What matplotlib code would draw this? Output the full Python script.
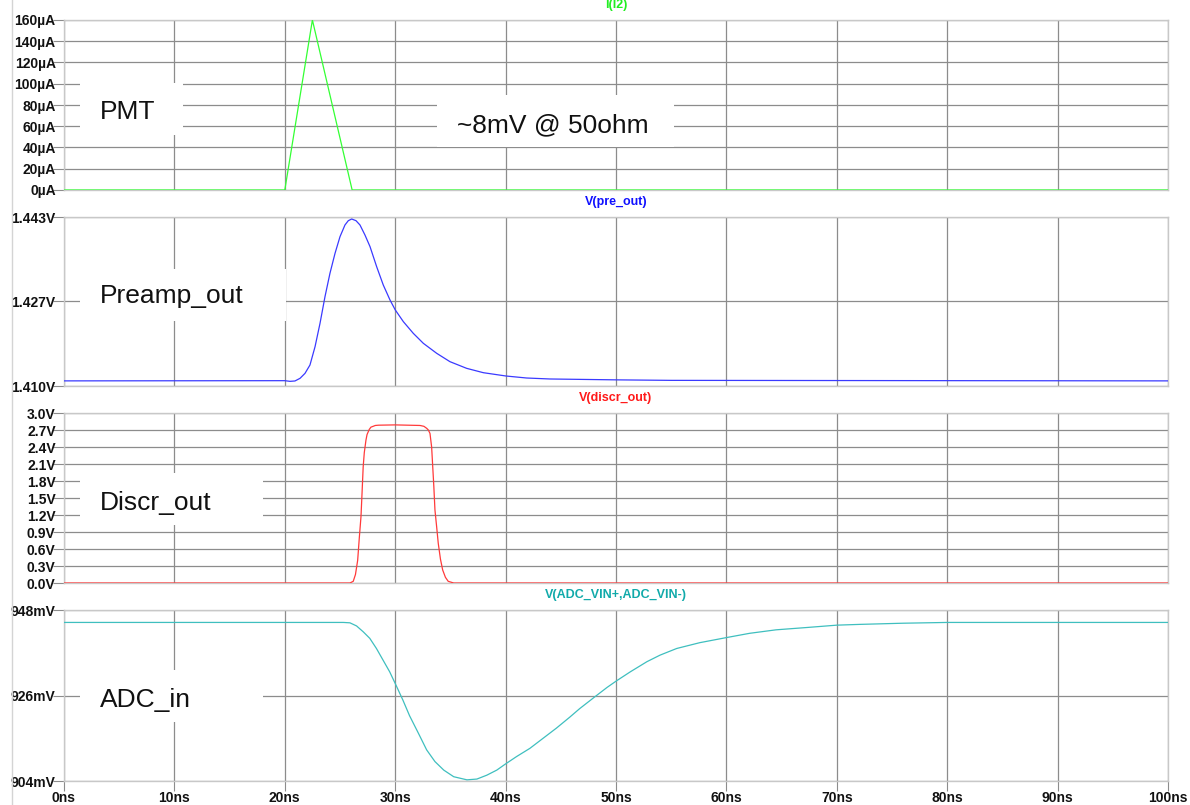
#!/usr/bin/env python3
"""
LTspice-style transient plot: PMT current, preamp, discriminator, ADC input.
"""

import matplotlib
matplotlib.use('Agg')
import matplotlib.pyplot as plt
import matplotlib.transforms as mtransforms
from matplotlib.patches import Rectangle
from matplotlib.lines import Line2D

W, H = 1190, 805
plt.rcParams['font.family'] = ['Liberation Sans', 'DejaVu Sans']

# ── Data ─────────────────────────────────────────────────────────
t_pmt = [0, 20.0, 22.5, 26.1, 100]
i_pmt = [0, 0, 160, 0, 0]

t_pre = [0, 20.0, 20.47, 20.92, 21.38, 21.83, 22.28, 22.74, 23.19, 23.64,
         24.09, 24.55, 25.0, 25.45, 25.75, 26.06, 26.45, 26.81, 27.26,
         27.72, 28.32, 28.92, 29.53, 30.01, 30.74, 31.64, 32.55, 33.76,
         34.96, 36.47, 37.98, 40.04, 41.91, 44.02, 50.0, 55.0, 100]
v_pre = [1.4110, 1.41104, 1.41091, 1.41098, 1.4115, 1.41247, 1.4141,
         1.41768, 1.42224, 1.42744, 1.4320, 1.43591, 1.43916, 1.44144,
         1.44228, 1.44261, 1.44228, 1.44144, 1.43949, 1.43721, 1.4333,
         1.42972, 1.42679, 1.42484, 1.42256, 1.42028, 1.41833, 1.41638,
         1.41475, 1.41345, 1.4126, 1.41195, 1.41156, 1.41137, 1.4112,
         1.4111, 1.4110]

t_dis = [0, 25.9, 26.0, 26.2, 26.4, 26.6, 26.75, 26.9, 27.0, 27.1, 27.2,
         27.35, 27.45, 27.65, 27.8, 28.2, 28.5, 30.0, 32.25, 32.6, 32.85,
         33.0, 33.15, 33.3, 33.4, 33.5, 33.6, 33.75, 33.9, 34.1, 34.3,
         34.55, 34.8, 35.3, 100]
v_dis = [0, 0, 0.01, 0.03, 0.15, 0.40, 0.80, 1.17, 1.60, 2.05, 2.30,
         2.52, 2.62, 2.71, 2.75, 2.78, 2.785, 2.79, 2.78, 2.765, 2.73,
         2.70, 2.64, 2.40, 2.05, 1.70, 1.29, 1.00, 0.70, 0.42, 0.23,
         0.10, 0.03, 0, 0]

t_adc = [0, 25.3, 25.9, 26.5, 27.1, 27.7, 28.3, 28.9, 29.5, 30.0, 30.7,
         31.3, 32.1, 32.85, 33.6, 34.4, 35.3, 36.5, 37.4, 38.3, 39.2,
         40.0, 41.0, 42.2, 43.4, 44.6, 45.8, 46.7, 48.1, 49.2, 50.06,
         51.3, 52.8, 54.0, 55.5, 57.6, 60.0, 62.1, 64.5, 67.3, 70.0,
         72.1, 76.0, 80.0, 100]
v_adc = [944.8, 944.8, 944.7, 943.9, 942.4, 940.7, 938.1, 935.1, 932.1,
         929.1, 924.8, 920.8, 916.3, 912.0, 909.0, 906.8, 905.1, 904.3,
         904.5, 905.5, 906.8, 908.4, 910.3, 912.4, 915.0, 917.6, 920.4,
         922.6, 925.7, 928.1, 929.8, 932.1, 934.7, 936.4, 938.1, 939.6,
         940.9, 942.0, 942.9, 943.5, 944.1, 944.3, 944.6, 944.8, 944.8]

x_ticks = list(range(0, 101, 10))
x_labels = [f'{v}ns' for v in x_ticks]

pmt_ticks = list(range(0, 161, 20))
pmt_labels = [f'{v}\u00b5A' for v in pmt_ticks]
pre_ticks = [1.410, 1.4265, 1.443]
pre_labels = ['1.410V', '1.427V', '1.443V']
dis_ticks = [i * 0.3 for i in range(11)]
dis_labels = [f'{v:.1f}V' for v in dis_ticks]
adc_ticks = [904, 926, 948]
adc_labels = ['904mV', '926mV', '948mV']

# ── Layout (pixel boxes of each panel: top, bottom) ──────────────
left_px, right_px = 64, 1168
panels = [
    (20, 190, t_pmt, i_pmt, '#33ff33', 'I(I2)', '#22ee22',
     (0, 160), pmt_ticks, pmt_labels),
    (217, 386, t_pre, v_pre, '#3a3aff', 'V(pre_out)', '#1010ff',
     (1.410, 1.443), pre_ticks, pre_labels),
    (413, 583, t_dis, v_dis, '#ff3a3a', 'V(discr_out)', '#ff1a1a',
     (0, 3.0), dis_ticks, dis_labels),
    (610, 781, t_adc, v_adc, '#3fbfbf', 'V(ADC_VIN+,ADC_VIN-)', '#11aaaa',
     (904, 948), adc_ticks, adc_labels),
]

fig = plt.figure(figsize=(W / 100, H / 100), dpi=100)
fig.patch.set_facecolor('white')

GRID = '#8c8c8c'
FRAME = '#c8c8c8'

for k, (top, bot, tx, vy, lc, title, tc, ylim, yt, yl) in enumerate(panels):
    ax = fig.add_axes([left_px / W, 1 - bot / H,
                       (right_px - left_px) / W, (bot - top) / H])
    ax.plot(tx, vy, color=lc, lw=0.9, zorder=3)
    ax.set_xlim(0, 100)
    ax.set_ylim(*ylim)
    ax.set_xticks(x_ticks)
    ax.set_yticks(yt, yl, fontweight='bold', fontsize=10)
    ax.grid(True, color=GRID, lw=0.9)
    ax.set_axisbelow(True)
    for s in ax.spines.values():
        s.set_color(FRAME)
        s.set_linewidth(1.0)
    ax.tick_params(axis='y', length=8, color=GRID, pad=-2, labelcolor='#111')
    if k < 3:
        ax.tick_params(axis='x', length=0, labelbottom=False)
    else:
        ax.set_xticklabels(x_labels, fontweight='bold', fontsize=10)
        ax.tick_params(axis='x', length=7, color=GRID, pad=0, labelcolor='#111')
    tr = mtransforms.offset_copy(ax.transAxes, fig=fig, y=15, units='dots')
    ax.text(0.5, 1.0, title, transform=tr, ha='center', va='center',
            fontsize=9, fontweight='bold', color=tc)

# LTspice window edge
fig.add_artist(Line2D([12 / W, 12 / W], [0, 1], transform=fig.transFigure,
                      color='#d4d4d4', lw=1.0))

# ── Big annotation labels with white boxes ───────────────────────
labels = [
    # (box x0, y0, x1, y1, text x, baseline y, text)
    (80, 83, 183, 135, 100, 119, 'PMT'),
    (437, 95, 674, 147, 457, 132, '~8mV @ 50ohm'),
    (80, 269, 286, 321, 100, 303, 'Preamp_out'),
    (80, 473, 263, 525, 100, 510, 'Discr_out'),
    (80, 670, 263, 722, 100, 707, 'ADC_in'),
]
for x0, y0, x1, y1, xt, yb, s in labels:
    fig.add_artist(Rectangle((x0 / W, 1 - y1 / H), (x1 - x0) / W, (y1 - y0) / H,
                             transform=fig.transFigure, facecolor='white',
                             edgecolor='none', zorder=5))
    fig.text(xt / W, 1 - yb / H, s, ha='left', va='baseline', fontsize=19,
             color='#111', zorder=6)

fig.savefig('out.png', dpi=100, facecolor='white')
